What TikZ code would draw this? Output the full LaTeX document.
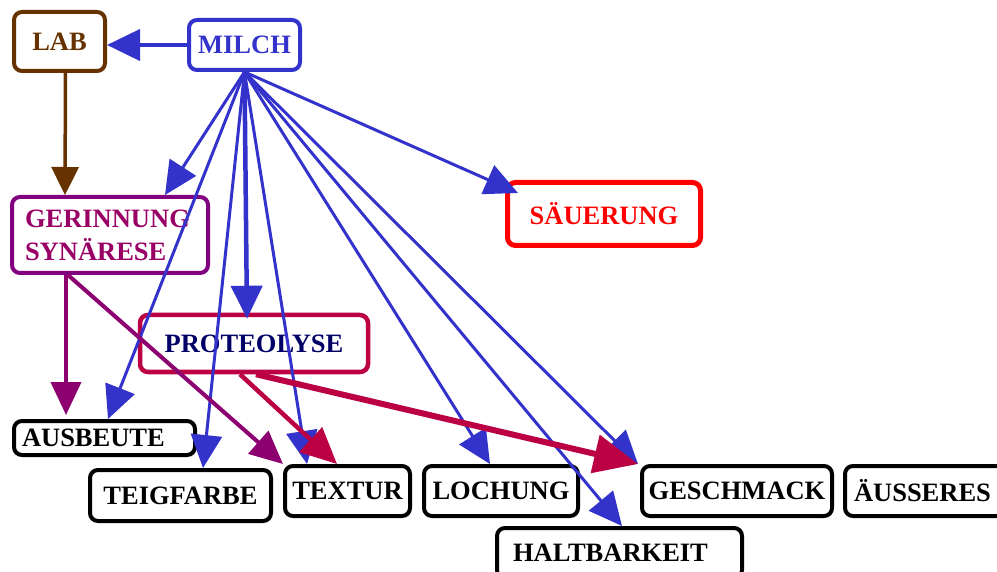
\documentclass[tikz,border=0pt]{standalone}
\usepackage{fontspec}
\setmainfont{Liberation Serif}
\usetikzlibrary{arrows.meta}
\definecolor{mblue}{HTML}{3333CC}
\definecolor{lbrown}{HTML}{663300}
\definecolor{gpurple}{HTML}{800080}
\definecolor{gtext}{HTML}{990066}
\definecolor{parrow}{HTML}{8C0070}
\definecolor{crimson}{HTML}{BB0044}
\definecolor{navytext}{HTML}{000066}
\definecolor{sred}{HTML}{FF0000}
\begin{document}
\begin{tikzpicture}[x=1pt,y=-1pt,
  font=\fontsize{26.5}{33}\selectfont\bfseries,
  box/.style={rounded corners=8pt, line width=4pt, inner sep=0pt, fill=white},
  outbox/.style={box, draw=black, text=black, minimum height=50pt},
  bluearrow/.style={draw=mblue, line width=3pt, -{Triangle[length=33pt,width=31pt]}},
  brownarrow/.style={draw=lbrown, line width=3.5pt, -{Triangle[length=28pt,width=27pt]}},
  purplearrow/.style={draw=parrow, line width=4pt, -{Triangle[length=33pt,width=30pt]}},
  crimsonarrow/.style={draw=crimson, line width=4.5pt, -{Triangle[length=36pt,width=33pt]}},
  crimsonthick/.style={draw=crimson, line width=6pt, -{Triangle[length=44pt,width=38pt]}}]
\useasboundingbox (0,0) rectangle (997,572);

% top nodes
\node[box, draw=lbrown, text=lbrown, minimum width=91pt, minimum height=59pt] (LAB) at (59.5,41.5) {LAB};
\node[box, draw=mblue, text=mblue, minimum width=111pt, minimum height=50pt] (MILCH) at (244.5,45) {MILCH};
\node[box, draw=gpurple, text=gtext, inner xsep=13pt, text width=170pt, align=left, minimum height=76pt] (GER) at (110,235) {GERINNUNG\\SYNÄRESE};
\node[box, draw=sred, text=sred, line width=5pt, minimum width=193pt, minimum height=63pt] (SAE) at (604,214) {SÄUERUNG};
\node[box, draw=crimson, text=navytext, line width=4.5pt, minimum width=228pt, minimum height=57pt] (PRO) at (254,343.5) {PROTEOLYSE};

% bottom nodes
\node[box, draw=black, text=black, inner xsep=8pt, text width=165pt, align=left, minimum height=34pt] (AUS) at (104.5,438) {AUSBEUTE};
\node[outbox, minimum width=181pt, minimum height=51pt] (TEIG) at (180.5,495.5) {TEIGFARBE};
\node[outbox, minimum width=125pt] (TEX) at (347.5,491) {TEXTUR};
\node[outbox, minimum width=154pt] (LOCH) at (501,491) {LOCHUNG};
\node[outbox, minimum width=190pt] (GESCH) at (737,491) {GESCHMACK};
\node[outbox, inner xsep=9pt, text width=142pt, align=left] (AEUS) at (925,491) {ÄUSSERES};
\node[outbox, inner xsep=16pt, text width=213pt, align=left] (HALT) at (619.5,553) {HALTBARKEIT};

% arrows
\draw[bluearrow, line width=4pt] (MILCH.west) -- (MILCH.west -| LAB.east);
\draw[brownarrow] ([xshift=6pt]LAB.south) -- ([xshift=55pt]GER.north west);

\draw[bluearrow] (MILCH.south) -- ([xshift=155pt]GER.north west);
\draw[bluearrow] (MILCH.south) -- ([xshift=96pt]AUS.north west);
\draw[bluearrow] (MILCH.south) -- ([xshift=115pt]TEIG.north west);
\draw[bluearrow, line width=4.5pt] (MILCH.south) -- ([xshift=-7pt,yshift=-6pt]PRO.north);
\draw[bluearrow] (MILCH.south) -- ([xshift=24pt]TEX.north west);
\draw[bluearrow] (MILCH.south) -- ([xshift=68pt]LOCH.north west);
\draw[bluearrow] (MILCH.south) -- ([xshift=127pt]HALT.north west);
\draw[bluearrow] (MILCH.south) -- ([xshift=-2pt]GESCH.north west);
\draw[bluearrow] (MILCH.south) -- ([xshift=13pt,yshift=-13pt]SAE.north west);

\draw[purplearrow, shorten >=4pt] ([xshift=56pt]GER.south west) -- ([xshift=54pt]AUS.north west);
\draw[purplearrow] ([xshift=58pt]GER.south west) -- (TEX.north west);
\draw[crimsonarrow] ([xshift=-14pt]PRO.south) -- ([xshift=54pt]TEX.north west);
\draw[crimsonthick] ([xshift=2pt]PRO.south) -- ([xshift=-2pt]GESCH.north west);
\end{tikzpicture}
\end{document}
